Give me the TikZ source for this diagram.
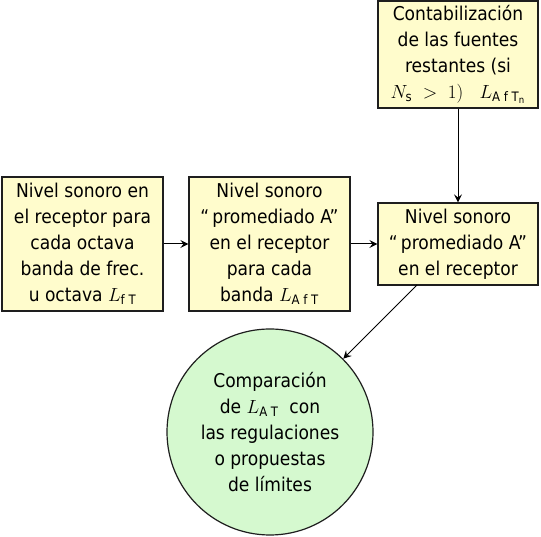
\RequirePackage{fix-cm}
\documentclass[tikz,border=0pt]{standalone}
\usepackage{fontspec}
\setmainfont{DejaVu Sans Condensed}
\usetikzlibrary{calc,arrows.meta}
\definecolor{boxfill}{RGB}{255,252,204}
\definecolor{circfill}{RGB}{213,249,207}
\definecolor{edge}{RGB}{30,30,30}
\newcommand\sbs[1]{\mbox{\fontsize{13}{13}\selectfont #1}}
\newcommand\ssbs[1]{\mbox{\fontsize{9.5}{9.5}\selectfont #1}}
\tikzset{
  txt/.style={font={\fontsize{19}{26}\selectfont}, align=center, inner sep=0pt},
  boxnode/.style={txt, draw=edge, fill=boxfill, line width=1.2pt, rectangle},
  circnode/.style={txt, draw=edge, fill=circfill, line width=1.2pt, circle, minimum size=206pt},
  conn/.style={draw=black, line width=1pt, -{Stealth[length=8pt,width=8pt,inset=3pt]}}
}
\begin{document}
\begin{tikzpicture}[x=1pt,y=1pt]
\useasboundingbox (0,0) rectangle (541,537);
\node[boxnode, minimum width=160pt, minimum height=107pt] (top) at (458,482.5)
  {Contabilización\\de las fuentes\\restantes (si\\$N_{\sbs{s}}\;>\;1)$\ \ \ $L_{\sbs{A f T}_{\ssbs{n}}}$};
\node[boxnode, minimum width=160pt, minimum height=82pt] (right) at (458,293)
  {Nivel sonoro\\“\,promediado A”\\en el receptor};
\node[boxnode, minimum width=161pt, minimum height=134pt] (mid) at (269.5,293)
  {Nivel sonoro\\“\,promediado A”\\en el receptor\\para cada\\banda $L_{\sbs{A f T}}$};
\node[boxnode, minimum width=161pt, minimum height=134pt] (left) at (82.5,293)
  {Nivel sonoro en\\el receptor para\\cada octava\\banda de frec.\\u octava $L_{\sbs{f T}}$};
\node[circnode] (circ) at (270,105)
  {Comparación\\de $L_{\sbs{A T}}$\ \ con\\las regulaciones\\o propuestas\\de límites};
\coordinate (rs) at ($(circ.center)+(147,147)$);
\draw[conn] (left) -- (mid);
\draw[conn] (mid) -- (right);
\draw[conn] (top) -- (right);
\draw[conn] (rs) -- (circ.45);
\end{tikzpicture}
\end{document}
